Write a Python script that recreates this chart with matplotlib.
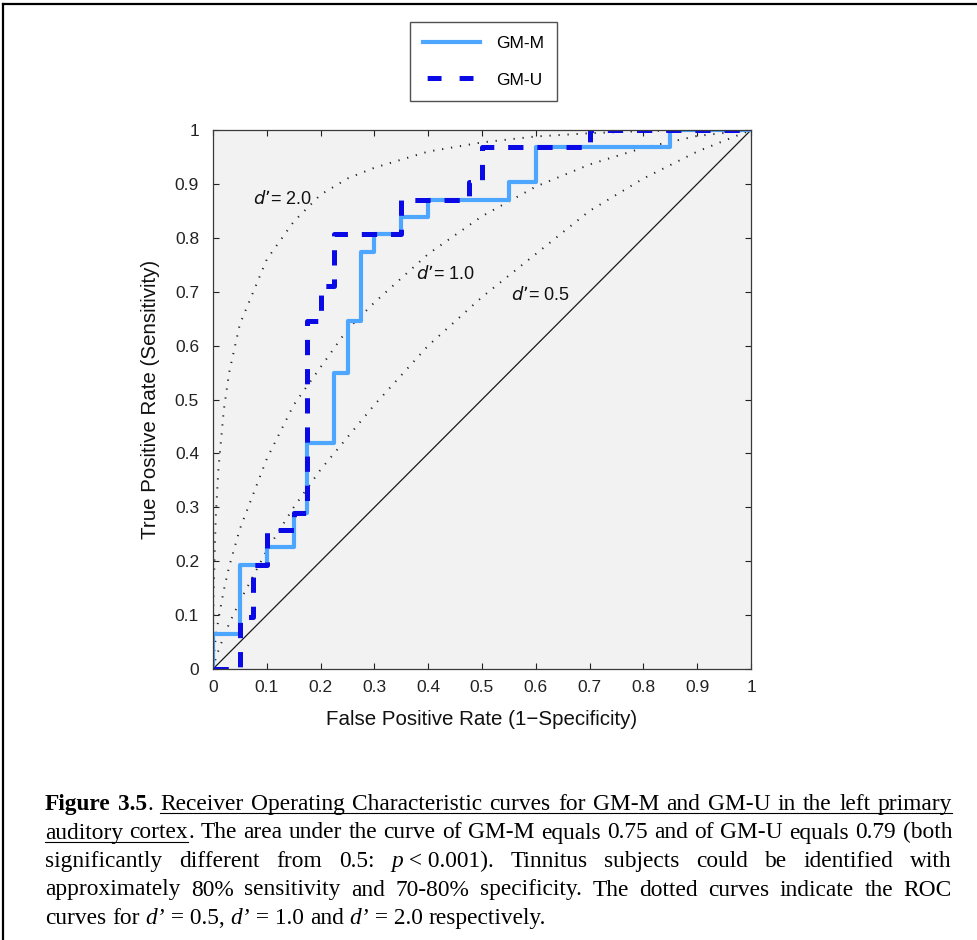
import matplotlib
matplotlib.use('Agg')
import matplotlib.pyplot as plt
from matplotlib.lines import Line2D

# ---- data ----
tick_vals = [0, 0.1, 0.2, 0.3, 0.4, 0.5, 0.6, 0.7, 0.8, 0.9, 1]
tick_labels = ['0', '0.1', '0.2', '0.3', '0.4', '0.5', '0.6', '0.7', '0.8', '0.9', '1']

n_pos = 31  # tinnitus subjects
gmm_fpr = [0, 0, 0.05, 0.10, 0.15, 0.175, 0.225, 0.25, 0.275, 0.30, 0.35, 0.40, 0.55, 0.60, 0.85, 1.0]
gmm_tp = [0, 2, 6, 7, 9, 13, 17, 20, 24, 25, 26, 27, 28, 30, 31, 31]
gmu_fpr = [0, 0.05, 0.075, 0.10, 0.15, 0.175, 0.20, 0.225, 0.35, 0.475, 0.50, 0.70, 1.0]
gmu_tp = [0, 3, 6, 8, 9, 20, 22, 25, 27, 28, 30, 31, 31]

# reference d' curves (dotted)
d_fpr = [0, 0.0002, 0.001, 0.005, 0.01, 0.02, 0.03, 0.05, 0.1, 0.15, 0.2, 0.25, 0.3, 0.4, 0.5, 0.6, 0.7, 0.8, 0.9, 1.0]
d20_tpr = [0, 0.06, 0.14, 0.28, 0.37, 0.48, 0.55, 0.64, 0.76, 0.83, 0.88, 0.91, 0.93, 0.96, 0.977, 0.988, 0.994, 0.998, 0.9995, 1.0]
d10_tpr = [0, 0.006, 0.018, 0.058, 0.092, 0.146, 0.19, 0.26, 0.39, 0.49, 0.56, 0.63, 0.68, 0.77, 0.84, 0.895, 0.936, 0.967, 0.989, 1.0]
d05_tpr = [0, 0.001, 0.005, 0.019, 0.034, 0.06, 0.084, 0.126, 0.22, 0.30, 0.37, 0.43, 0.49, 0.60, 0.69, 0.77, 0.85, 0.91, 0.96, 1.0]

W, H = 977, 940
plt.rcParams['font.family'] = ['Liberation Sans', 'DejaVu Sans']
plt.rcParams['lines.scale_dashes'] = False

fig = plt.figure(figsize=(W / 100, H / 100), dpi=100)
ax = fig.add_axes([213 / W, 1 - 669 / H, 538 / W, 539 / H])
ax.set_facecolor('#f2f2f2')

dot = (0, (0.9, 5.6))
for tpr in (d20_tpr, d10_tpr, d05_tpr):
    ax.plot(d_fpr, tpr, linestyle=dot, color='#222222', lw=1.4)
ax.plot([0, 1], [0, 1], color='#1a1a1a', lw=0.9)
gmm_tpr = [v / n_pos for v in gmm_tp]
gmu_tpr = [v / n_pos for v in gmu_tp]
l1, = ax.step(gmm_fpr, gmm_tpr, where='post', color='#4da6ff', lw=3.0)
l2, = ax.step(gmu_fpr, gmu_tpr, where='post', color='#0a0ae6', lw=3.6, dashes=(11, 10))

for x, y, s in [(0.075, 0.872, '2.0'), (0.377, 0.733, '1.0'), (0.553, 0.694, '0.5')]:
    ax.text(x, y, r'$\it{d}$’= ' + s, fontsize=13, color='#111111', va='center')

ax.set_xlim(0, 1)
ax.set_ylim(0, 1)
ax.set_xticks(tick_vals, tick_labels)
ax.set_yticks(tick_vals, tick_labels)
ax.tick_params(direction='in', length=4, width=0.8, top=True, right=True,
               labelsize=12.5, colors='#222222', pad=8)
ax.tick_params(axis='y', pad=10)
for sp in ax.spines.values():
    sp.set_color('#3a3a3a')
    sp.set_linewidth(0.9)
ax.set_xlabel('False Positive Rate (1\u2212Specificity)', fontsize=14.8, color='#111111')
ax.set_ylabel('True Positive Rate (Sensitivity)', fontsize=14.8, color='#111111')
ax.xaxis.set_label_coords(0.5, -0.076)
ax.yaxis.set_label_coords(-0.098, 0.5)

# legend proxies (dash phase chosen to show two dashes like the original)
h1 = Line2D([], [], color='#4da6ff', lw=3.0)
h2 = Line2D([], [], color='#0a0ae6', lw=3.6, linestyle=(20, (10, 13)))
leg = fig.legend([h1, h2], ['GM-M', 'GM-U'], loc='center',
                 bbox_to_anchor=(483.5 / W, 1 - 61.5 / H), fontsize=12.5,
                 frameon=True, fancybox=False, handlelength=3.3, handletextpad=0.9,
                 labelspacing=1.25, borderpad=0.75, borderaxespad=0)
leg.get_frame().set_edgecolor('#262626')
leg.get_frame().set_linewidth(1.0)

# outer frame (cropped box)
fig.add_artist(Line2D([3 / W, 1], [1 - 4 / H, 1 - 4 / H], color='black', lw=1.6))
fig.add_artist(Line2D([3 / W, 3 / W], [0, 1 - 4 / H], color='black', lw=1.6))

# ---- caption ----
NB = '\u00a0'
caption = [
    [('Figure 3.5', 'b'), ('. ', 'r'),
     ('Receiver Operating Characteristic curves for GM-M and GM-U in the left primary', 'u')],
    [('auditory cortex', 'u'),
     ('. The area under the curve of GM-M equals 0.75 and of GM-U equals 0.79 (both', 'r')],
    [('significantly different from 0.5: ', 'r'), ('p', 'i'),
     (NB + '<' + NB + '0.001). Tinnitus subjects could be identified with', 'r')],
    [('approximately 80% sensitivity and 70-80% specificity. The dotted curves indicate the ROC', 'r')],
    [('curves for ', 'r'), ('d’', 'i'), (NB + '=' + NB + '0.5, ', 'r'), ('d’', 'i'),
     (NB + '=' + NB + '1.0 and ', 'r'), ('d’', 'i'), (NB + '=' + NB + '2.0 respectively.', 'r')],
]
serif = ['Liberation Serif', 'DejaVu Serif']
styles = {
    'r': dict(family=serif),
    'u': dict(family=serif),
    'b': dict(family=serif, weight='bold'),
    'i': dict(family=serif, style='italic'),
}
renderer = fig.canvas.get_renderer()
x_left, x_right = 45, 952
baselines = [810, 838.5, 867, 895.5, 924]


def to_words(runs):
    words = [[]]
    for text, st in runs:
        parts = text.split(' ')
        for k, p in enumerate(parts):
            if k > 0:
                words.append([])
            if p:
                words[-1].append((p, st))
    return [w for w in words if w]


def measure(s, st, fs):
    t = fig.text(0, 0, s, fontsize=fs, **styles[st])
    w = t.get_window_extent(renderer).width
    t.remove()
    return w


line_words = [to_words(r) for r in caption]


def natural(words, fs):
    sp = measure('a a', 'r', fs) - measure('aa', 'r', fs)
    tot = sum(measure(s, st, fs) for w in words for s, st in w)
    return tot + sp * (len(words) - 1)


fs = 16.8
while natural(line_words[0], fs) > (x_right - x_left) and fs > 9:
    fs -= 0.1

space = measure('a a', 'r', fs) - measure('aa', 'r', fs)
for li, words in enumerate(line_words):
    widths = [[measure(s, st, fs) for s, st in w] for w in words]
    tot = sum(sum(w) for w in widths)
    if li < len(line_words) - 1:
        gap = (x_right - x_left - tot) / (len(words) - 1)
    else:
        gap = space
    yb = baselines[li]
    x = x_left
    seg = None
    for w, ws in zip(words, widths):
        for (s, st), wd in zip(w, ws):
            fig.text(x / W, 1 - yb / H, s, fontsize=fs, va='baseline', ha='left',
                     color='black', **styles[st])
            if st == 'u':
                if seg is None:
                    seg = [x, x + wd]
                else:
                    seg[1] = x + wd
            elif seg is not None:
                fig.add_artist(Line2D([seg[0] / W, seg[1] / W], [1 - (yb + 3) / H] * 2,
                                      color='black', lw=0.8))
                seg = None
            x += wd
        x += gap
    if seg is not None:
        fig.add_artist(Line2D([seg[0] / W, seg[1] / W], [1 - (yb + 3) / H] * 2,
                              color='black', lw=0.8))

fig.savefig('out.png', dpi=100, facecolor='white')
